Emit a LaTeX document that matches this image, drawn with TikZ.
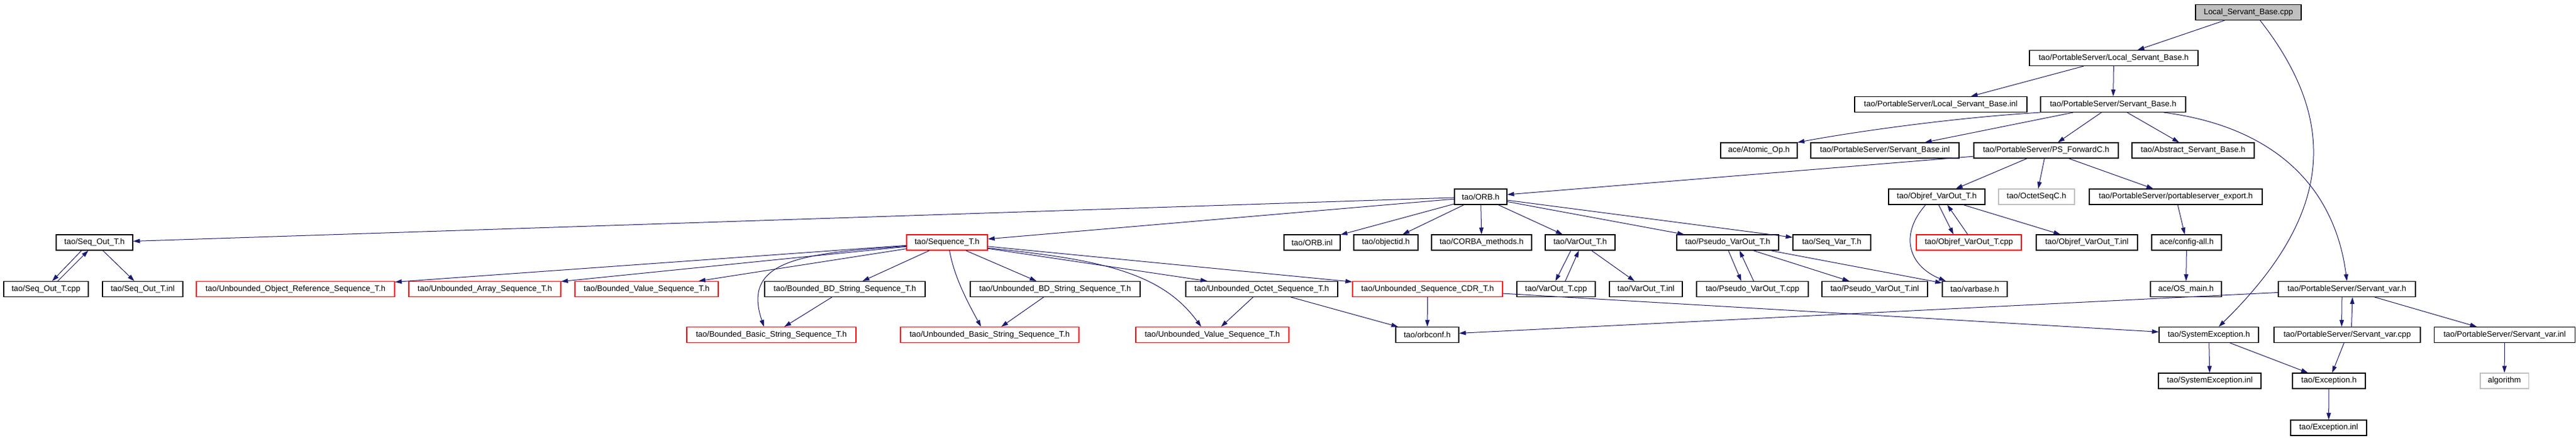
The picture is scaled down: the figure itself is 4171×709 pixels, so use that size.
\documentclass[tikz,border=0pt]{standalone}
\usepackage{fontspec}
\setmainfont{Liberation Sans}
\usetikzlibrary{arrows.meta,calc}
\definecolor{edgeblue}{HTML}{191970}
\definecolor{greyb}{HTML}{BFBFBF}
\begin{document}
\begin{tikzpicture}[x=1pt,y=-1pt,
  box/.style={draw=black,line width=1.1pt,inner sep=0pt,minimum height=25pt,font=\fontsize{13}{15}\selectfont,fill=white},
  redbox/.style={box,draw=red},
  greybox/.style={box,draw=greyb},
  rootbox/.style={box,fill=greyb},
  edge/.style={draw=edgeblue,line width=1pt,-{Triangle[length=11pt,width=7pt]}}]
\useasboundingbox (0,0) rectangle (4171,709);
% row 0
\node[rootbox,minimum width=171pt] (LSBcpp) at (3640.5,20) {Local\_Servant\_Base.cpp};
% row 1
\node[box,minimum width=273pt] (LSBh) at (3422.5,94) {tao/PortableServer/Local\_Servant\_Base.h};
% row 2
\node[box,minimum width=279pt] (LSBinl) at (3142.5,169) {tao/PortableServer/Local\_Servant\_Base.inl};
\node[box,minimum width=235pt] (SBh) at (3421.5,169) {tao/PortableServer/Servant\_Base.h};
% row 3
\node[box,minimum width=124pt] (AtomicOp) at (2848,243.5) {ace/Atomic\_Op.h};
\node[box,minimum width=240pt] (SBinl) at (3052,243.5) {tao/PortableServer/Servant\_Base.inl};
\node[box,minimum width=234pt] (PSF) at (3313,243.5) {tao/PortableServer/PS\_ForwardC.h};
\node[box,minimum width=198pt] (ASB) at (3551,243.5) {tao/Abstract\_Servant\_Base.h};
% row 4
\node[box,minimum width=85pt] (ORBh) at (2397.5,318.5) {tao/ORB.h};
\node[box,minimum width=156pt] (ObjVh) at (3136,318.5) {tao/Objref\_VarOut\_T.h};
\node[greybox,minimum width=123pt] (OctetSeqC) at (3297.5,318.5) {tao/OctetSeqC.h};
\node[box,minimum width=280pt] (pse) at (3523,318.5) {tao/PortableServer/portableserver\_export.h};
% row 5
\node[box,minimum width=124pt] (SeqOut) at (153,392.5) {tao/Seq\_Out\_T.h};
\node[redbox,minimum width=131pt] (SeqT) at (1533.5,392.5) {tao/Sequence\_T.h};
\node[box,minimum width=91pt] (ORBinl) at (2124.5,392.5) {tao/ORB.inl};
\node[box,minimum width=104pt] (objectid) at (2244,392.5) {tao/objectid.h};
\node[box,minimum width=162pt] (CORBAm) at (2399,392.5) {tao/CORBA\_methods.h};
\node[box,minimum width=113pt] (VarOut) at (2558.5,392.5) {tao/VarOut\_T.h};
\node[box,minimum width=165pt] (PV) at (2797.5,392.5) {tao/Pseudo\_VarOut\_T.h};
\node[box,minimum width=126pt] (SeqVar) at (2966,392.5) {tao/Seq\_Var\_T.h};
\node[redbox,minimum width=170pt] (ObjVcpp) at (3188,392.5) {tao/Objref\_VarOut\_T.cpp};
\node[box,minimum width=164pt] (ObjVinl) at (3379,392.5) {tao/Objref\_VarOut\_T.inl};
\node[box,minimum width=113pt] (cfgall) at (3540.5,392.5) {ace/config-all.h};
% row 6
\node[box,minimum width=137pt] (SeqOutcpp) at (74.5,468) {tao/Seq\_Out\_T.cpp};
\node[box,minimum width=130pt] (SeqOutinl) at (231,468) {tao/Seq\_Out\_T.inl};
\node[redbox,minimum width=321pt] (UORS) at (478.5,468) {tao/Unbounded\_Object\_Reference\_Sequence\_T.h};
\node[redbox,minimum width=246pt] (UAS) at (785,468) {tao/Unbounded\_Array\_Sequence\_T.h};
\node[redbox,minimum width=232pt] (BVS) at (1047,468) {tao/Bounded\_Value\_Sequence\_T.h};
\node[box,minimum width=260pt] (BBDS) at (1368,468) {tao/Bounded\_BD\_String\_Sequence\_T.h};
\node[box,minimum width=275pt] (UBDS) at (1708.5,468) {tao/Unbounded\_BD\_String\_Sequence\_T.h};
\node[box,minimum width=246pt] (UOS) at (2043,468) {tao/Unbounded\_Octet\_Sequence\_T.h};
\node[redbox,minimum width=243pt] (USCDR) at (2311.5,468) {tao/Unbounded\_Sequence\_CDR\_T.h};
\node[box,minimum width=127pt] (VarOutcpp) at (2519.5,468) {tao/VarOut\_T.cpp};
\node[box,minimum width=118pt] (VarOutinl) at (2665,468) {tao/VarOut\_T.inl};
\node[box,minimum width=181pt] (PVcpp) at (2837.5,468) {tao/Pseudo\_VarOut\_T.cpp};
\node[box,minimum width=171pt] (PVinl) at (3035.5,468) {tao/Pseudo\_VarOut\_T.inl};
\node[box,minimum width=105pt] (varbase) at (3197.5,468) {tao/varbase.h};
\node[box,minimum width=115pt] (OSmain) at (3539.5,468) {ace/OS\_main.h};
\node[box,minimum width=222pt] (Svarh) at (3800,468) {tao/PortableServer/Servant\_var.h};
% row 7
\node[redbox,minimum width=274pt] (BBS) at (1249,542) {tao/Bounded\_Basic\_String\_Sequence\_T.h};
\node[redbox,minimum width=289pt] (UBS) at (1602.5,542) {tao/Unbounded\_Basic\_String\_Sequence\_T.h};
\node[redbox,minimum width=248pt] (UVS) at (1963,542) {tao/Unbounded\_Value\_Sequence\_T.h};
\node[box,minimum width=102pt] (orbconf) at (2311,542) {tao/orbconf.h};
\node[box,minimum width=161pt] (SysExc) at (3576.5,542) {tao/SystemException.h};
\node[box,minimum width=237pt] (Svarcpp) at (3800.5,542) {tao/PortableServer/Servant\_var.cpp};
\node[box,minimum width=228pt] (Svarinl) at (4055.5,542) {tao/PortableServer/Servant\_var.inl};
% row 8
\node[box,minimum width=166pt] (SysExcinl) at (3578,616.5) {tao/SystemException.inl};
\node[box,minimum width=118pt] (Exch) at (3771,616.5) {tao/Exception.h};
\node[greybox,minimum width=78pt] (algorithm) at (4055,616.5) {algorithm};
% row 9
\node[box,minimum width=123pt] (Excinl) at (3770.5,692.5) {tao/Exception.inl};

% edges
\draw[edge] (LSBcpp) -- (LSBh);
\draw[edge] ($(LSBcpp.south)+(19,0)$) .. controls (3790,200) and (3775,350) .. ($(SysExc.north)+(16,0)$);
\draw[edge] (LSBh) -- (LSBinl);
\draw[edge] (LSBh) -- (SBh);
\draw[edge] (SBh.south west) .. controls (3170,190) and (3010,212) .. (AtomicOp.north east);
\draw[edge] (SBh) -- (SBinl);
\draw[edge] (SBh) -- (PSF);
\draw[edge] (SBh) -- (ASB);
\draw[edge] ($(SBh.south)+(82,0)$) .. controls (3680,205) and (3780,300) .. (Svarh.north);
\draw[edge] (PSF) -- (ORBh);
\draw[edge] (PSF) -- (ObjVh);
\draw[edge] (PSF) -- (OctetSeqC);
\draw[edge] (PSF) -- (pse);
\draw[edge] (pse) -- (cfgall);
\draw[edge] (cfgall) -- (OSmain);
\draw[edge] ($(ObjVh.south)+(3,0)$) -- ($(ObjVcpp.north)+(-25,0)$);
\draw[edge] ($(ObjVcpp.north)+(-2,0)$) -- ($(ObjVh.south)+(17,0)$);
\draw[edge] (ObjVh) -- (ObjVinl);
\draw[edge] ($(ObjVh.south)+(-18,0)$) .. controls (3075,380) and (3090,430) .. ($(varbase.north)+(-47,0)$);
\draw[edge] (ORBh) -- (SeqOut);
\draw[edge] (ORBh) -- (SeqT);
\draw[edge] (ORBh) -- (ORBinl);
\draw[edge] (ORBh) -- (objectid);
\draw[edge] (ORBh) -- (CORBAm);
\draw[edge] (ORBh) -- (VarOut);
\draw[edge] (ORBh) -- (PV);
\draw[edge] (ORBh) -- (SeqVar);
\draw[edge] ($(SeqOut.south)+(-21,0)$) -- ($(SeqOutcpp.north)+(10,0)$);
\draw[edge] ($(SeqOutcpp.north)+(19,0)$) -- ($(SeqOut.south)+(-10,0)$);
\draw[edge] (SeqOut) -- (SeqOutinl);
\draw[edge] (SeqT) -- (UORS);
\draw[edge] (SeqT) -- (UAS);
\draw[edge] (SeqT) -- (BVS);
\draw[edge] ($(SeqT.west)+(0,6)$) .. controls (1300,410) and (1200,420) .. ($(BBS.north)+(-12,0)$);
\draw[edge] (SeqT) -- (BBDS);
\draw[edge] ($(SeqT.south)+(4,0)$) .. controls (1545,450) and (1570,495) .. ($(UBS.north)+(-14,0)$);
\draw[edge] (SeqT) -- (UBDS);
\draw[edge] ($(SeqT.east)+(0,9)$) .. controls (1780,420) and (1880,440) .. ($(UVS.north)+(-18,0)$);
\draw[edge] (SeqT) -- (UOS);
\draw[edge] (SeqT) -- (USCDR);
\draw[edge] (BBDS) -- (BBS);
\draw[edge] (UBDS) -- (UBS);
\draw[edge] (UOS) -- (UVS);
\draw[edge] (UOS) -- (orbconf);
\draw[edge] (USCDR) -- (orbconf);
\draw[edge] (USCDR) -- (SysExc);
\draw[edge] ($(VarOut.south)+(-15,0)$) -- ($(VarOutcpp.north)+(-1,0)$);
\draw[edge] ($(VarOutcpp.north)+(15,0)$) -- ($(VarOut.south)+(-2,0)$);
\draw[edge] (VarOut) -- (VarOutinl);
\draw[edge] ($(PV.south)+(1,0)$) -- ($(PVcpp.north)+(-18,0)$);
\draw[edge] ($(PVcpp.north)+(2,0)$) -- ($(PV.south)+(19,0)$);
\draw[edge] (PV) -- (PVinl);
\draw[edge] (PV) -- (varbase);
\draw[edge] (Svarh) -- (orbconf);
\draw[edge] ($(Svarh.south)+(-8,0)$) -- ($(Svarcpp.north)+(-9,0)$);
\draw[edge] ($(Svarcpp.north)+(7,0)$) -- ($(Svarh.south)+(9,0)$);
\draw[edge] (Svarh) -- (Svarinl);
\draw[edge] (Svarcpp) -- (Exch);
\draw[edge] (Svarinl) -- (algorithm);
\draw[edge] (SysExc) -- (SysExcinl);
\draw[edge] (SysExc) -- (Exch);
\draw[edge] (Exch) -- (Excinl);
\end{tikzpicture}
\end{document}
